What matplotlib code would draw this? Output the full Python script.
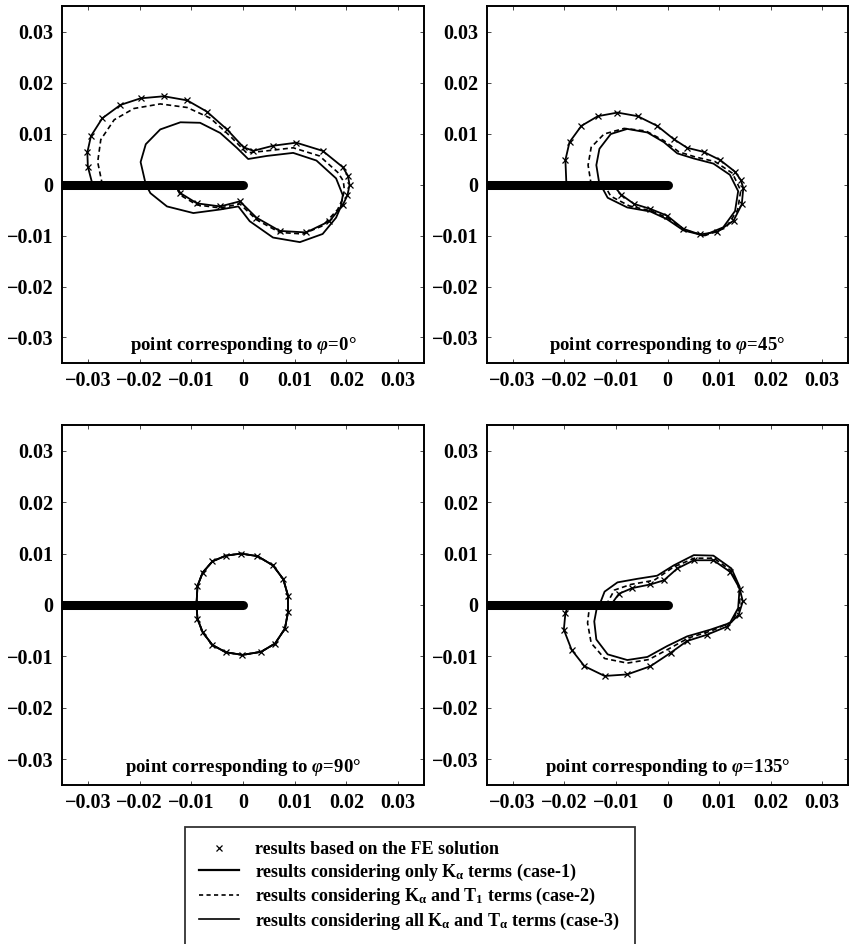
import numpy as np
import matplotlib.pyplot as plt
from matplotlib.lines import Line2D
from matplotlib.ticker import FixedLocator

plt.rcParams['font.family'] = ['Liberation Serif', 'DejaVu Serif']
plt.rcParams['font.weight'] = 'bold'
plt.rcParams['mathtext.fontset'] = 'custom'
plt.rcParams['mathtext.rm'] = 'Liberation Serif:bold'
plt.rcParams['mathtext.it'] = 'Liberation Serif:italic:bold'
plt.rcParams['mathtext.bf'] = 'Liberation Serif:bold'

# tick values / labels shared by all four panels
tick_values = [-0.03, -0.02, -0.01, 0.0, 0.01, 0.02, 0.03]
tick_labels = ['\u22120.03', '\u22120.02', '\u22120.01', '0', '0.01', '0.02', '0.03']
axis_limit = 0.035

# crack faces (crack tip at the origin)
crack_x = [-0.04, 0.0]
crack_y = [0.0, 0.0]

# ---- phi = 0 deg ----
case3_phi0 = [(-0.0291, 0.0), (-0.0300, 0.0035), (-0.0301, 0.0063), (-0.0294, 0.0095),
              (-0.0272, 0.0130), (-0.0237, 0.0156), (-0.0198, 0.0169), (-0.0153, 0.0173),
              (-0.0108, 0.0165), (-0.0070, 0.0143), (-0.0031, 0.0108), (0.0001, 0.0073),
              (0.0020, 0.0066), (0.0058, 0.0076), (0.0103, 0.0082), (0.0154, 0.0066),
              (0.0193, 0.0034), (0.0203, 0.0017), (0.0206, -0.0001), (0.0202, -0.0021),
              (0.0193, -0.0040), (0.0167, -0.0072), (0.0122, -0.0094), (0.0071, -0.0091),
              (0.0026, -0.0065), (-0.0006, -0.0033), (-0.0044, -0.0043), (-0.0089, -0.0037),
              (-0.0121, -0.0017), (-0.0131, 0.0)]
fe_phi0 = [(-0.0291, 0.0), (-0.0300, 0.0035), (-0.0301, 0.0063), (-0.0294, 0.0095),
           (-0.0272, 0.0130), (-0.0237, 0.0156), (-0.0198, 0.0169), (-0.0153, 0.0173),
           (-0.0108, 0.0165), (-0.0070, 0.0143), (-0.0031, 0.0108), (0.0001, 0.0073),
           (0.0020, 0.0066), (0.0058, 0.0076), (0.0103, 0.0082), (0.0154, 0.0066),
           (0.0193, 0.0034), (0.0203, 0.0017), (0.0206, -0.0001), (0.0202, -0.0021),
           (0.0193, -0.0040), (0.0167, -0.0072), (0.0122, -0.0094), (0.0071, -0.0091),
           (0.0026, -0.0065), (-0.0006, -0.0033), (-0.0044, -0.0043), (-0.0089, -0.0037),
           (-0.0121, -0.0017), (-0.0131, 0.0)]
case2_phi0 = [(-0.0272, 0.0), (-0.0281, 0.0044), (-0.0275, 0.0088), (-0.0249, 0.0127),
              (-0.0211, 0.0149), (-0.0160, 0.0158), (-0.0108, 0.0151), (-0.0063, 0.0130),
              (-0.0025, 0.0095), (0.0007, 0.0062), (0.0046, 0.0066), (0.0097, 0.0072),
              (0.0148, 0.0056), (0.0183, 0.0024), (0.0194, 0.0007), (0.0196, -0.0011),
              (0.0192, -0.0030), (0.0183, -0.0049), (0.0154, -0.0081), (0.0116, -0.0097),
              (0.0071, -0.0094), (0.0026, -0.0069), (-0.0006, -0.0038), (-0.0044, -0.0046),
              (-0.0089, -0.0040), (-0.0121, -0.0021), (-0.0131, 0.0)]
case1_phi0 = [(-0.0188, 0.0), (-0.0198, 0.0044), (-0.0188, 0.0079), (-0.0160, 0.0108),
              (-0.0121, 0.0122), (-0.0083, 0.0121), (-0.0044, 0.0101), (-0.0012, 0.0072),
              (0.0010, 0.0050), (0.0046, 0.0056), (0.0097, 0.0062), (0.0142, 0.0047),
              (0.0180, 0.0012), (0.0193, -0.0021), (0.0189, -0.0044), (0.0180, -0.0065),
              (0.0154, -0.0097), (0.0110, -0.0113), (0.0058, -0.0104), (0.0013, -0.0072),
              (-0.0009, -0.0043), (-0.0044, -0.0049), (-0.0096, -0.0056), (-0.0147, -0.0043),
              (-0.0179, -0.0017), (-0.0188, 0.0)]

# ---- phi = 45 deg ----
case3_phi45 = [(-0.0196, 0.0), (-0.0198, 0.0048), (-0.0190, 0.0083), (-0.0167, 0.0115),
               (-0.0135, 0.0134), (-0.0097, 0.0141), (-0.0058, 0.0134), (-0.0020, 0.0115),
               (0.0012, 0.0089), (0.0038, 0.0072), (0.0070, 0.0064), (0.0102, 0.0048),
               (0.0131, 0.0025), (0.0142, 0.0009), (0.0147, -0.0007), (0.0144, -0.0039),
               (0.0128, -0.0071), (0.0096, -0.0093), (0.0063, -0.0098), (0.0031, -0.0087),
               (-0.0001, -0.0061), (-0.0033, -0.0048), (-0.0065, -0.0038), (-0.0090, -0.0020),
               (-0.0106, 0.0)]
fe_phi45 = [(-0.0196, 0.0), (-0.0198, 0.0048), (-0.0190, 0.0083), (-0.0167, 0.0115),
            (-0.0135, 0.0134), (-0.0097, 0.0141), (-0.0058, 0.0134), (-0.0020, 0.0115),
            (0.0012, 0.0089), (0.0038, 0.0072), (0.0070, 0.0064), (0.0102, 0.0048),
            (0.0131, 0.0025), (0.0142, 0.0009), (0.0147, -0.0007), (0.0144, -0.0039),
            (0.0128, -0.0071), (0.0096, -0.0093), (0.0063, -0.0098), (0.0031, -0.0087),
            (-0.0001, -0.0061), (-0.0033, -0.0048), (-0.0065, -0.0038), (-0.0090, -0.0020),
            (-0.0106, 0.0)]
case2_phi45 = [(-0.0148, 0.0), (-0.0154, 0.0038), (-0.0148, 0.0073), (-0.0123, 0.0099),
               (-0.0084, 0.0110), (-0.0042, 0.0105), (-0.0007, 0.0086), (0.0022, 0.0064),
               (0.0054, 0.0054), (0.0092, 0.0045), (0.0126, 0.0022), (0.0142, -0.0012),
               (0.0136, -0.0050), (0.0113, -0.0085), (0.0073, -0.0100), (0.0035, -0.0090),
               (0.0001, -0.0066), (-0.0031, -0.0052), (-0.0074, -0.0042), (-0.0110, -0.0023),
               (-0.0123, 0.0)]
case1_phi45 = [(-0.0132, 0.0), (-0.0138, 0.0038), (-0.0132, 0.0070), (-0.0110, 0.0099),
               (-0.0078, 0.0109), (-0.0039, 0.0102), (-0.0007, 0.0083), (0.0019, 0.0061),
               (0.0051, 0.0051), (0.0089, 0.0041), (0.0121, 0.0019), (0.0137, -0.0013),
               (0.0131, -0.0052), (0.0108, -0.0084), (0.0070, -0.0100), (0.0031, -0.0090),
               (-0.0001, -0.0068), (-0.0033, -0.0053), (-0.0078, -0.0045), (-0.0116, -0.0026),
               (-0.0130, 0.0)]

# ---- phi = 90 deg (all three cases and FE practically coincide) ----
case3_phi90 = [(-0.0090, 0.0), (-0.0088, 0.0037), (-0.0078, 0.0063), (-0.0059, 0.0085),
               (-0.0033, 0.0096), (-0.0004, 0.0100), (0.0028, 0.0095), (0.0058, 0.0077),
               (0.0078, 0.0050), (0.0087, 0.0018), (0.0087, -0.0014), (0.0081, -0.0046),
               (0.0062, -0.0075), (0.0035, -0.0091), (-0.0001, -0.0097), (-0.0033, -0.0092),
               (-0.0059, -0.0078), (-0.0078, -0.0053), (-0.0088, -0.0027), (-0.0090, 0.0)]
fe_phi90 = [(-0.0090, 0.0), (-0.0088, 0.0037), (-0.0078, 0.0063), (-0.0059, 0.0085),
            (-0.0033, 0.0096), (-0.0004, 0.0100), (0.0028, 0.0095), (0.0058, 0.0077),
            (0.0078, 0.0050), (0.0087, 0.0018), (0.0087, -0.0014), (0.0081, -0.0046),
            (0.0062, -0.0075), (0.0035, -0.0091), (-0.0001, -0.0097), (-0.0033, -0.0092),
            (-0.0059, -0.0078), (-0.0078, -0.0053), (-0.0088, -0.0027), (-0.0090, 0.0)]
case2_phi90 = case3_phi90
case1_phi90 = case3_phi90

# ---- phi = 135 deg ----
case3_phi135 = [(-0.0110, 0.0), (-0.0094, 0.0022), (-0.0068, 0.0033), (-0.0033, 0.0040),
                (-0.0007, 0.0048), (0.0019, 0.0071), (0.0051, 0.0087), (0.0089, 0.0087),
                (0.0122, 0.0064), (0.0140, 0.0032), (0.0146, 0.0007), (0.0138, -0.0019),
                (0.0115, -0.0042), (0.0076, -0.0058), (0.0038, -0.0070), (0.0006, -0.0093),
                (-0.0033, -0.0119), (-0.0078, -0.0135), (-0.0122, -0.0138), (-0.0161, -0.0119),
                (-0.0186, -0.0087), (-0.0201, -0.0048), (-0.0198, -0.0016), (-0.0192, 0.0)]
fe_phi135 = [(-0.0110, 0.0), (-0.0094, 0.0022), (-0.0068, 0.0033), (-0.0033, 0.0040),
             (-0.0007, 0.0048), (0.0019, 0.0071), (0.0051, 0.0087), (0.0089, 0.0087),
             (0.0122, 0.0064), (0.0140, 0.0032), (0.0146, 0.0007), (0.0138, -0.0019),
             (0.0115, -0.0042), (0.0076, -0.0058), (0.0038, -0.0070), (0.0006, -0.0093),
             (-0.0033, -0.0119), (-0.0078, -0.0135), (-0.0122, -0.0138), (-0.0161, -0.0119),
             (-0.0186, -0.0087), (-0.0201, -0.0048), (-0.0198, -0.0016), (-0.0192, 0.0)]
case2_phi135 = [(-0.0119, 0.0), (-0.0103, 0.0029), (-0.0071, 0.0040), (-0.0026, 0.0048),
                (0.0012, 0.0074), (0.0052, 0.0091), (0.0090, 0.0091), (0.0123, 0.0067),
                (0.0140, 0.0033), (0.0140, -0.0006), (0.0124, -0.0033), (0.0086, -0.0050),
                (0.0041, -0.0064), (0.0003, -0.0085), (-0.0036, -0.0106), (-0.0078, -0.0113),
                (-0.0122, -0.0104), (-0.0148, -0.0074), (-0.0155, -0.0035), (-0.0151, 0.0)]
case1_phi135 = [(-0.0132, 0.0), (-0.0122, 0.0026), (-0.0097, 0.0044), (-0.0058, 0.0051),
                (-0.0020, 0.0057), (0.0012, 0.0077), (0.0051, 0.0097), (0.0089, 0.0096),
                (0.0124, 0.0071), (0.0140, 0.0035), (0.0137, -0.0006), (0.0121, -0.0035),
                (0.0083, -0.0048), (0.0038, -0.0061), (-0.0001, -0.0080), (-0.0039, -0.0101),
                (-0.0078, -0.0107), (-0.0116, -0.0096), (-0.0138, -0.0067), (-0.0142, -0.0032),
                (-0.0136, 0.0)]

panel_labels = ['point corresponding to $\\varphi$=0\u00b0',
                'point corresponding to $\\varphi$=45\u00b0',
                'point corresponding to $\\varphi$=90\u00b0',
                'point corresponding to $\\varphi$=135\u00b0']

legend_labels = ['results based on the FE solution',
                 'results considering only K$_\\mathrm{\\alpha}$ terms (case-1)',
                 'results considering K$_\\mathrm{\\alpha}$ and T$_\\mathrm{1}$ terms (case-2)',
                 'results considering all K$_\\mathrm{\\alpha}$ and T$_\\mathrm{\\alpha}$ terms (case-3)']

W, H = 850, 944
fig = plt.figure(figsize=(W / 100, H / 100), dpi=100)

# axes boxes in pixels: (left, top, right, bottom)
boxes = [(62, 6, 424, 363), (487, 6, 848, 363),
         (62, 425, 424, 785), (487, 425, 848, 785)]

datasets = [(fe_phi0, case1_phi0, case2_phi0, case3_phi0),
            (fe_phi45, case1_phi45, case2_phi45, case3_phi45),
            (fe_phi90, case1_phi90, case2_phi90, case3_phi90),
            (fe_phi135, case1_phi135, case2_phi135, case3_phi135)]

for (l, t, r, b), (fe, c1, c2, c3), label in zip(boxes, datasets, panel_labels):
    ax = fig.add_axes([l / W, 1 - b / H, (r - l) / W, (b - t) / H])
    c1 = np.array(c1); c2 = np.array(c2); c3 = np.array(c3); fe = np.array(fe)
    ax.plot(c1[:, 0], c1[:, 1], color='black', lw=1.3, zorder=2)
    ax.plot(c2[:, 0], c2[:, 1], color='black', lw=1.2, dashes=(3, 2), zorder=2)
    ax.plot(c3[:, 0], c3[:, 1], color='black', lw=1.3, zorder=2)
    ax.plot(fe[:, 0], fe[:, 1], ls='none', marker='x', ms=4, mew=0.9,
            color='black', zorder=3)
    ax.plot(crack_x, crack_y, color='black', lw=6.5, solid_capstyle='round', zorder=4)

    ax.set_xlim(-axis_limit, axis_limit)
    ax.set_ylim(-axis_limit, axis_limit)
    ax.xaxis.set_major_locator(FixedLocator(tick_values))
    ax.yaxis.set_major_locator(FixedLocator(tick_values))
    ax.set_xticklabels(tick_labels)
    ax.set_yticklabels(tick_labels)
    ax.tick_params(direction='in', top=True, right=True, length=3,
                   labelsize=14.5, width=0.5, pad=6)
    for s in ax.spines.values():
        s.set_linewidth(1.4)

    ax.text(0.5, 0.02, label, transform=ax.transAxes, ha='center', va='bottom',
            fontsize=13.5)

handles = [Line2D([], [], ls='none', marker='x', ms=4, mew=0.9, color='black'),
           Line2D([], [], color='black', lw=1.6),
           Line2D([], [], color='black', lw=1.2, dashes=(2.5, 2)),
           Line2D([], [], color='black', lw=1.2)]
leg = fig.legend(handles, legend_labels, loc='upper left',
                 bbox_to_anchor=(185 / W, 1 - 827 / H), borderaxespad=0,
                 fontsize=13, frameon=True, fancybox=False, edgecolor='black',
                 handlelength=2.2, handletextpad=0.9, labelspacing=0.18,
                 borderpad=0.8)
leg.get_frame().set_linewidth(1.3)

fig.savefig('out.png', dpi=100)
